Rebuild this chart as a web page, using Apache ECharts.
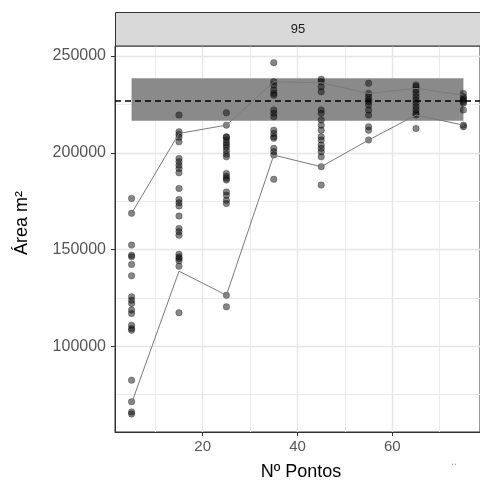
<!DOCTYPE html>
<html>
<head>
<meta charset="utf-8">
<script src="https://cdn.jsdelivr.net/npm/echarts@6/dist/echarts.min.js"></script>
<style>html,body{margin:0;padding:0;background:#fff}#c{width:480px;height:485px}</style>
</head>
<body>
<div id="c"></div>
<script>
var pointCounts = [5, 15, 25, 35, 45, 55, 65, 75];
var area5 = [176400, 168700, 152300, 147100, 146300, 142300, 136400, 125600, 123800, 122100, 118700, 117000, 110900, 109200, 108300, 82500, 71300, 66100, 65000];
var area15 = [219500, 210900, 209500, 208000, 205700, 197100, 195400, 193600, 191900, 189700, 181600, 175900, 174200, 172500, 167300, 160900, 159200, 157400, 147600, 146200, 145400, 144200, 141400, 117300];
var area25 = [220700, 214300, 208300, 208000, 206600, 205200, 204000, 202800, 201100, 199300, 197900, 189300, 187900, 186700, 185900, 179800, 178100, 175500, 173800, 126400, 120400];
var area35 = [246600, 236700, 235000, 232400, 230700, 229800, 222100, 220400, 218600, 211700, 210000, 208300, 207500, 202300, 200600, 198800, 186300];
var area45 = [238000, 236700, 234100, 231500, 222100, 220400, 217000, 214300, 211700, 208300, 206600, 204000, 202300, 200600, 197900, 192800, 183300];
var area55 = [235900, 230700, 229000, 227500, 226400, 224700, 222100, 219500, 213500, 211700, 206600];
var area65 = [235000, 234100, 232400, 230700, 229000, 227300, 225600, 223800, 222100, 220400, 219500, 212600];
var area75 = [230700, 229000, 228100, 227300, 226400, 225600, 222100, 214300, 213500];
var upperLine = [168700, 210000, 214300, 236700, 236200, 230700, 233300, 229800];
var lowerLine = [70600, 138800, 126400, 198800, 192800, 206600, 219500, 214300];
var bandLow = 216600, bandHigh = 238500, bandFrom = 5, bandTo = 75;
var refValue = 227100;
var xTicks = [20, 40, 60];
var xMinor = [10, 30, 50, 70];
var yTicks = [100000, 150000, 200000, 250000];
var yMinor = [75000, 125000, 175000, 225000];
var facetLabel = '95';
var xTitle = 'Nº Pontos';
var yTitle = 'Área m²';

var columns = [area5, area15, area25, area35, area45, area55, area65, area75];
var scatterData = [];
columns.forEach(function (col, i) {
  col.forEach(function (v) { scatterData.push([pointCounts[i], v]); });
});
function pair(arr) { return arr.map(function (v, i) { return [pointCounts[i], v]; }); }

var gridLines = [];
xMinor.forEach(function (v) { gridLines.push({ xAxis: v, lineStyle: { color: '#ebebeb', width: 1, type: 'solid' } }); });
yMinor.forEach(function (v) { gridLines.push({ yAxis: v, lineStyle: { color: '#ebebeb', width: 1, type: 'solid' } }); });
xTicks.forEach(function (v) { gridLines.push({ xAxis: v, lineStyle: { color: '#e6e6e6', width: 1.4, type: 'solid' } }); });
yTicks.forEach(function (v) { gridLines.push({ yAxis: v, lineStyle: { color: '#e6e6e6', width: 1.4, type: 'solid' } }); });

var font = 'Liberation Sans, Arial, sans-serif';
var chart = echarts.init(document.getElementById('c'), null, { renderer: 'canvas' });
chart.setOption({
  animation: false,
  backgroundColor: '#ffffff',
  grid: { left: 115, top: 46, width: 368, height: 386, show: true, borderColor: '#333333', borderWidth: 1, backgroundColor: 'transparent' },
  xAxis: {
    type: 'value', min: 1.5, max: 78.5,
    axisLine: { show: true, onZero: false, lineStyle: { color: '#333333', width: 1 } },
    axisTick: { show: true, customValues: xTicks, length: 4, lineStyle: { color: '#333333' } },
    axisLabel: { customValues: xTicks, color: '#555555', fontSize: 15, fontFamily: font, margin: 7,
      formatter: function (v) { return String(v); } },
    splitLine: { show: false }
  },
  yAxis: {
    type: 'value', min: 55700, max: 255200,
    axisLine: { show: true, onZero: false, lineStyle: { color: '#333333', width: 1 } },
    axisTick: { show: true, customValues: yTicks, length: 4, lineStyle: { color: '#333333' } },
    axisLabel: { customValues: yTicks, color: '#555555', fontSize: 16, fontFamily: font, margin: 9,
      formatter: function (v) { return String(v); } },
    splitLine: { show: false }
  },
  graphic: [
    { type: 'rect', shape: { x: 115.5, y: 12.5, width: 368, height: 33.5 }, style: { fill: '#d9d9d9', stroke: '#333333', lineWidth: 1 }, z: 10 },
    { type: 'text', x: 298, y: 29, style: { text: facetLabel, fill: '#1a1a1a', font: '13px ' + font, textAlign: 'center', textVerticalAlign: 'middle' }, z: 11 },
    { type: 'text', x: 301, y: 472, style: { text: xTitle, fill: '#000000', font: '18px ' + font, textAlign: 'center', textVerticalAlign: 'middle' }, z: 11 },
    { type: 'text', x: 22, y: 223, rotation: Math.PI / 2, style: { text: yTitle, fill: '#000000', font: '18px ' + font, textAlign: 'center', textVerticalAlign: 'middle' }, z: 11 },
    { type: 'text', x: 454, y: 462, style: { text: '..', fill: '#999999', font: '10px ' + font, textAlign: 'center', textVerticalAlign: 'middle' }, z: 11 }
  ],
  series: [
    {
      type: 'line', data: [], silent: true, z: 0,
      markLine: { silent: true, z: 0, symbol: 'none', label: { show: false }, data: gridLines, animation: false }
    },
    {
      type: 'line', data: [], silent: true, z: 2,
      markArea: { silent: true, z: 2, itemStyle: { color: '#8a8a8a', opacity: 1 }, label: { show: false },
        data: [[{ coord: [bandFrom, bandLow] }, { coord: [bandTo, bandHigh] }]] }
    },
    {
      type: 'scatter', data: scatterData, symbolSize: 6.5, z: 3,
      itemStyle: { color: 'rgba(10,10,10,0.62)', borderColor: 'rgba(0,0,0,0.55)', borderWidth: 0.6 }
    },
    { type: 'line', data: pair(upperLine), symbol: 'none', z: 4, lineStyle: { color: '#7a7a7a', width: 1 } },
    { type: 'line', data: pair(lowerLine), symbol: 'none', z: 4, lineStyle: { color: '#7a7a7a', width: 1 } },
    {
      type: 'line', data: [], silent: true, z: 5,
      markLine: { silent: true, z: 5, symbol: 'none', label: { show: false },
        lineStyle: { color: '#000000', width: 1.5, type: [6, 4] }, data: [{ yAxis: refValue }] }
    }
  ]
});
</script>
</body>
</html>
